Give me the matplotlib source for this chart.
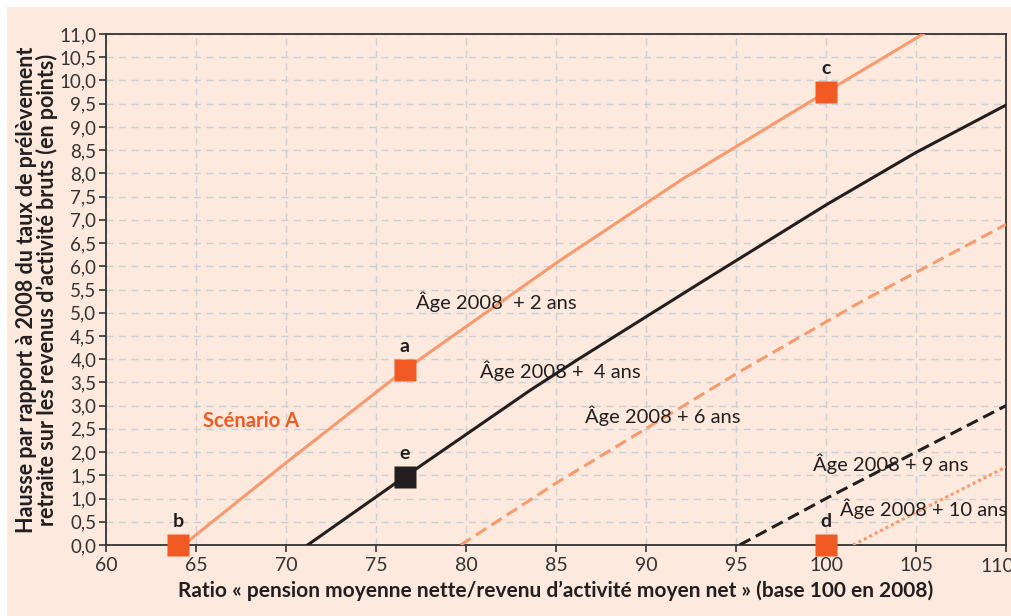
import matplotlib.pyplot as plt
import matplotlib.patches as patches
from matplotlib.ticker import MultipleLocator, FuncFormatter

# Curves
age2_x = [64.3, 70, 76.6, 85.2, 92, 100, 105.4]
age2_y = [0.0, 1.77, 3.77, 6.12, 7.87, 9.75, 11.0]
age4_x = [71.2, 76.6, 83.6, 86.2, 93, 100, 105, 110]
age4_y = [0.0, 1.47, 3.34, 3.99, 5.64, 7.32, 8.45, 9.47]
age6_x = [79.7, 85, 95.2, 102.1, 110]
age6_y = [0.0, 1.33, 3.73, 5.27, 6.90]
age9_x = [95.2, 100, 105, 110]
age9_y = [0.0, 1.0, 2.0, 3.0]
age10_x = [101.5, 105, 110]
age10_y = [0.0, 0.7, 1.68]

# Marked points
pt_labels = ['a', 'b', 'c', 'd', 'e']
pt_x = [76.6, 64.0, 100.0, 100.0, 76.6]
pt_y = [3.77, 0.0, 9.75, 0.0, 1.47]
pt_dark = [False, False, False, False, True]

# Line labels
lab_text = ['Âge 2008  + 2 ans', 'Âge 2008 +  4 ans', 'Âge 2008 + 6 ans',
            'Âge 2008 + 9 ans', 'Âge 2008 + 10 ans']
lab_x = [77.2, 80.8, 86.6, 99.3, 100.8]
lab_y = [5.23, 3.75, 2.78, 1.74, 0.78]

x_ticks = [60, 65, 70, 75, 80, 85, 90, 95, 100, 105, 110]

bg = '#fde9dd'
orange_light = '#f79a6e'
orange = '#f15a22'
dark = '#231f20'

plt.rcParams['font.family'] = ['Lato', 'DejaVu Sans']

fig = plt.figure(figsize=(10.12, 6.16), dpi=100)
fig.patch.set_facecolor('white')
fig.add_artist(patches.Rectangle((7 / 1012, 0), 1, 1 - 7 / 616, transform=fig.transFigure,
                                 facecolor=bg, edgecolor='none', zorder=-10))
ax = fig.add_axes([106 / 1012, 1 - 545 / 616, 900 / 1012, 511 / 616])
ax.set_facecolor(bg)

ax.plot(age2_x, age2_y, color=orange_light, lw=2.2, zorder=3)
ax.plot(age4_x, age4_y, color=dark, lw=2.2, zorder=3)
ax.plot(age6_x, age6_y, color=orange_light, lw=2.2, ls=(0, (4, 2)), zorder=3)
ax.plot(age9_x, age9_y, color=dark, lw=2.2, ls=(0, (4, 2)), zorder=3)
ax.plot(age10_x, age10_y, color=orange_light, lw=2.2, ls=(0, (1, 1)), zorder=3)

for lab, x, y, d in zip(pt_labels, pt_x, pt_y, pt_dark):
    ax.plot(x, y, marker='s', ms=15.5, color=dark if d else orange, mec='none',
            zorder=5, clip_on=False)
    ax.annotate(lab, (x, y), xytext=(0, 10.5), textcoords='offset points',
                ha='center', va='bottom', fontsize=14, fontweight='bold', color=dark)

for t, x, y in zip(lab_text, lab_x, lab_y):
    ax.text(x, y, t, fontsize=14.5, color=dark, ha='left', va='center', zorder=4)

ax.text(65.4, 2.67, 'Scénario A', fontsize=14.5, fontweight='bold', color=orange,
        ha='left', va='center')

ax.set_xlim(60, 110)
ax.set_ylim(0, 11)
# last x label is drawn by hand, nudged left so it stays inside the figure
ax.set_xticks(x_ticks, [str(v) for v in x_ticks[:-1]] + [''])
ax.annotate(str(x_ticks[-1]), (x_ticks[-1], 0), xytext=(-6.5, -9.5), textcoords='offset points',
            ha='center', va='top', fontsize=14, color='#333333', annotation_clip=False)
ax.yaxis.set_major_locator(MultipleLocator(0.5))
ax.yaxis.set_major_formatter(FuncFormatter(lambda v, p: f'{v:.1f}'.replace('.', ',')))
ax.grid(True, color='#c9d0d6', ls=(0, (5, 4)), lw=1)
ax.set_axisbelow(True)
for s in ax.spines.values():
    s.set_color('#333333')
    s.set_linewidth(1.3)
ax.tick_params(direction='out', length=5, width=1.2, color='#333333',
               labelsize=14, labelcolor='#333333')
ax.tick_params(axis='y', pad=2, labelsize=13.5)

ax.set_xlabel('Ratio « pension moyenne nette/revenu d’activité moyen net » (base 100 en 2008)',
              fontsize=15, fontweight='bold', color=dark, labelpad=5)
ax.set_ylabel('Hausse par rapport à 2008 du taux de prélèvement\n'
              'retraite sur les revenus d’activité bruts (en points)',
              fontsize=15.5, fontweight='bold', color=dark, labelpad=1, linespacing=0.95)

fig.savefig('out.png', dpi=100, facecolor=fig.get_facecolor())
